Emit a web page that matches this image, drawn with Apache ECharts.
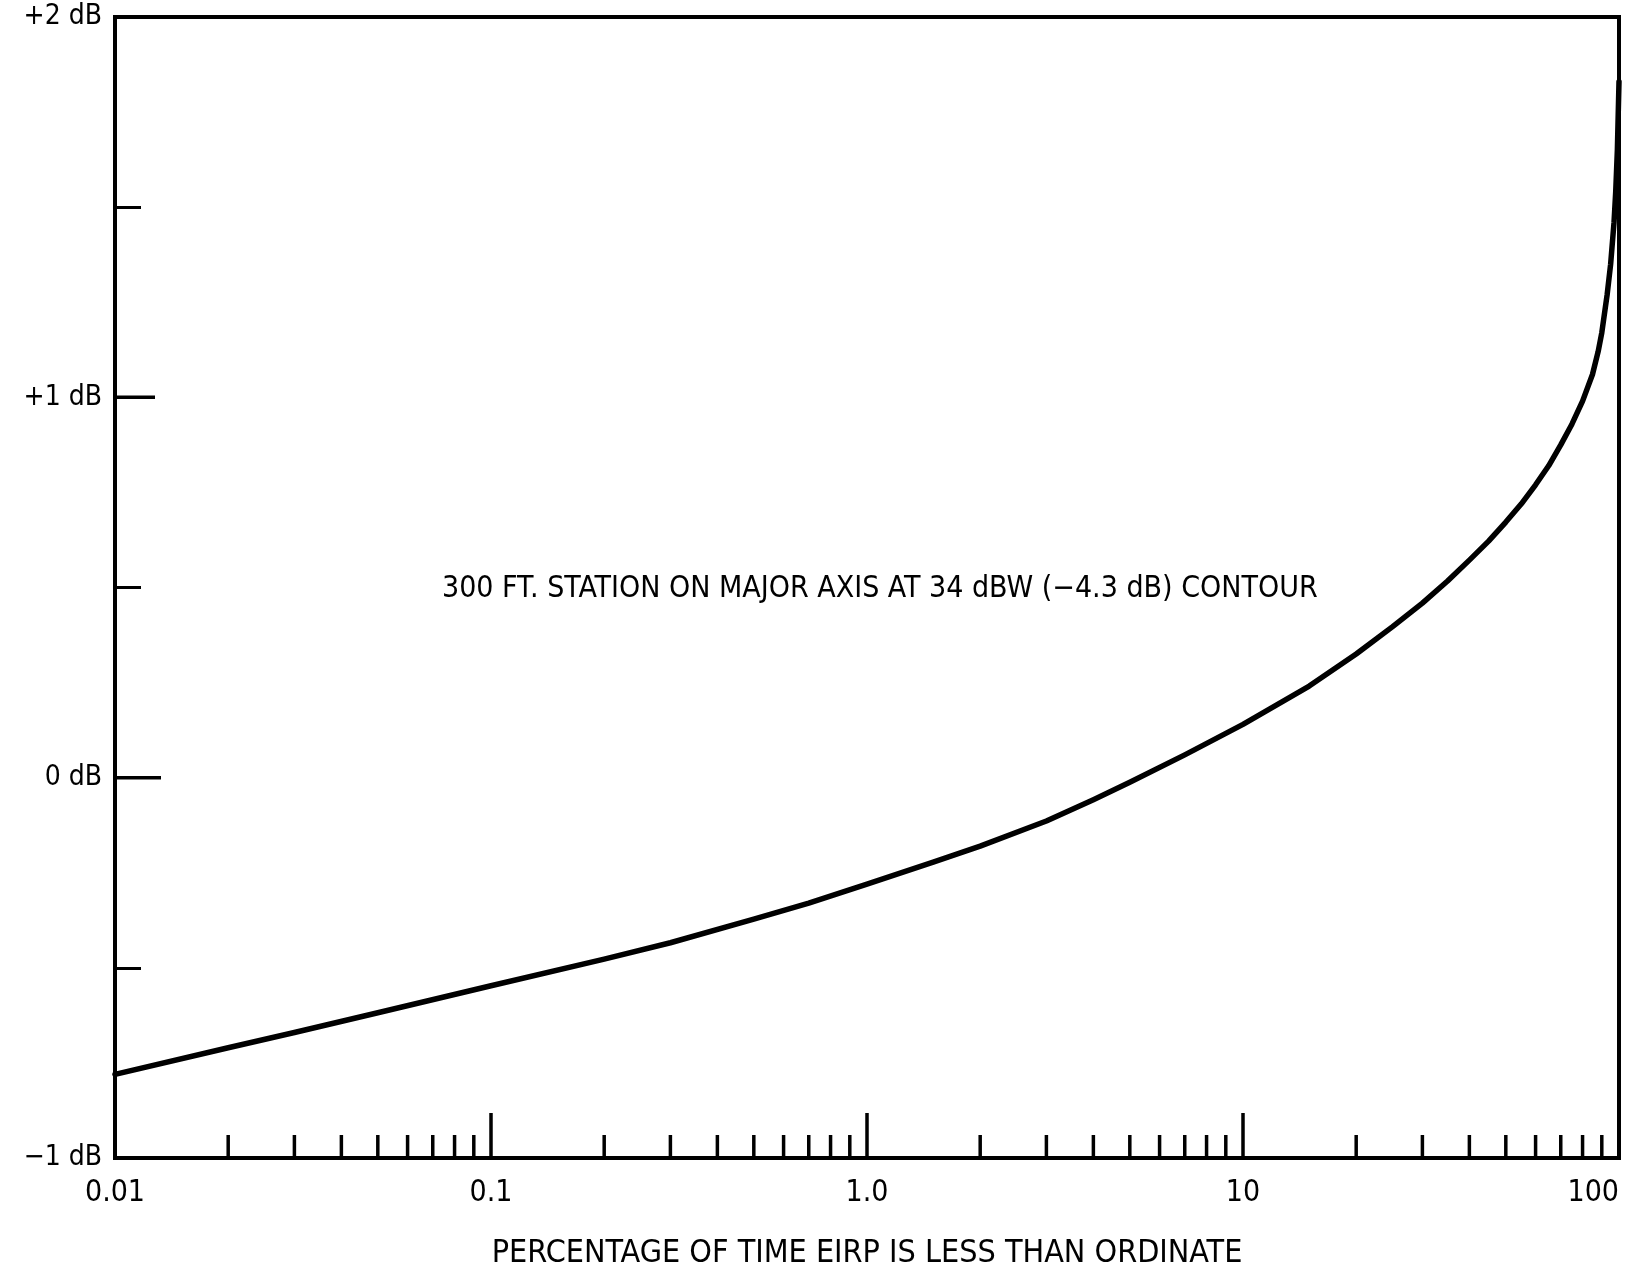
<!DOCTYPE html>
<html>
<head>
<meta charset="utf-8">
<script src="https://cdn.jsdelivr.net/npm/echarts@6/dist/echarts.min.js"></script>
<style>
  html, body { margin: 0; padding: 0; background: #fff; }
  #chart { width: 1639px; height: 1272px; }
</style>
</head>
<body>
<div id="chart"></div>
<script>
// ---- data ----
const percentTime = [0.01, 0.02, 0.03, 0.05, 0.1, 0.2, 0.3, 0.5, 0.7, 1, 1.5, 2, 3, 4, 5, 7, 10, 15, 20, 25, 30, 35, 40, 45, 50, 55, 60, 65, 70, 75, 80, 85, 88, 90, 93, 95, 97, 98, 99, 100];
const eirpDb      = [-0.78, -0.71, -0.67, -0.618, -0.547, -0.477, -0.434, -0.372, -0.33, -0.28, -0.222, -0.18, -0.114, -0.058, -0.012, 0.06, 0.14, 0.241, 0.325, 0.397, 0.459, 0.517, 0.572, 0.622, 0.672, 0.72, 0.77, 0.82, 0.875, 0.93, 0.99, 1.06, 1.12, 1.17, 1.27, 1.35, 1.46, 1.54, 1.65, 1.83];
const xTickLabels = ['0.01', '0.1', '1.0', '10', '100'];
const xMinorTicks = [0.02,0.03,0.04,0.05,0.06,0.07,0.08,0.09,
                     0.2,0.3,0.4,0.5,0.6,0.7,0.8,0.9,
                     2,3,4,5,6,7,8,9,
                     20,30,40,50,60,70,80,90];
const yTickLabels = {'-1': '\u22121 dB', '0': '0 dB', '1': '+1 dB', '2': '+2 dB'};
const yMajorTicks = [1, 0];
const annotation = '300 FT. STATION ON MAJOR AXIS AT 34 dBW (\u22124.3 dB) CONTOUR';
const xTitle = 'PERCENTAGE OF TIME EIRP IS LESS THAN ORDINATE';

// ---- styles ----
const FONT = '"Liberation Sans Narrow", "DejaVu Sans Condensed", "Liberation Sans", sans-serif';
const INK = '#000';
const yMajorLen = {'1': 40, '0': 46};

const chart = echarts.init(document.getElementById('chart'), null, {renderer: 'canvas'});
chart.setOption({
  animation: false,
  backgroundColor: '#fff',
  grid: {
    left: 115, right: 20, top: 17, bottom: 114,
    containLabel: false, outerBoundsMode: 'none',
    show: true, borderColor: INK, borderWidth: 4, backgroundColor: 'transparent'
  },
  xAxis: {
    type: 'log', logBase: 10, min: 0.01, max: 100,
    axisLine: {show: true, onZero: false, lineStyle: {color: INK, width: 4}},
    axisTick: {show: true, inside: true, length: 45, lineStyle: {color: INK, width: 3.5}},
    splitLine: {show: false},
    axisLabel: {
      color: INK, fontFamily: FONT, fontSize: 30, margin: 20,
      alignMaxLabel: 'right',
      formatter: v => xTickLabels[Math.round(Math.log10(v)) + 2]
    },
    name: xTitle, nameLocation: 'middle', nameGap: 80,
    nameTextStyle: {color: INK, fontFamily: FONT, fontSize: 32}
  },
  yAxis: {
    type: 'value', min: -1, max: 2, interval: 0.5,
    axisLine: {show: true, onZero: false, lineStyle: {color: INK, width: 4}},
    axisTick: {show: true, inside: true, length: 26, lineStyle: {color: INK, width: 3}},
    splitLine: {show: false},
    axisLabel: {
      color: INK, fontFamily: FONT, fontSize: 28, margin: 13,
      formatter: v => yTickLabels[String(v)] || ''
    }
  },
  graphic: [{
    type: 'text', left: 442, top: 574,
    style: {text: annotation, fill: INK, font: '30px ' + FONT}
  }],
  series: [
    {
      type: 'line',
      data: percentTime.map((x, i) => [x, eirpDb[i]]),
      smooth: false,
      showSymbol: false, symbol: 'none',
      lineStyle: {color: INK, width: 5.5, join: 'round', cap: 'round'},
      silent: true, z: 3
    },
    {
      type: 'custom', coordinateSystem: 'cartesian2d', silent: true, clip: false,
      data: xMinorTicks.map(v => [v, -1]),
      renderItem: (params, api) => {
        const p = api.coord([api.value(0), api.value(1)]);
        return {type: 'line', shape: {x1: p[0], y1: p[1], x2: p[0], y2: p[1] - 23},
                style: {stroke: INK, lineWidth: 3.5}};
      }
    },
    {
      type: 'custom', coordinateSystem: 'cartesian2d', silent: true, clip: false,
      data: yMajorTicks.map(v => [0.01, v]),
      renderItem: (params, api) => {
        const v = api.value(1);
        const p = api.coord([api.value(0), v]);
        const len = yMajorLen[String(v)] || 40;
        return {type: 'line', shape: {x1: p[0], y1: p[1], x2: p[0] + len, y2: p[1]},
                style: {stroke: INK, lineWidth: 3.5}};
      }
    }
  ]
});
</script>
</body>
</html>
